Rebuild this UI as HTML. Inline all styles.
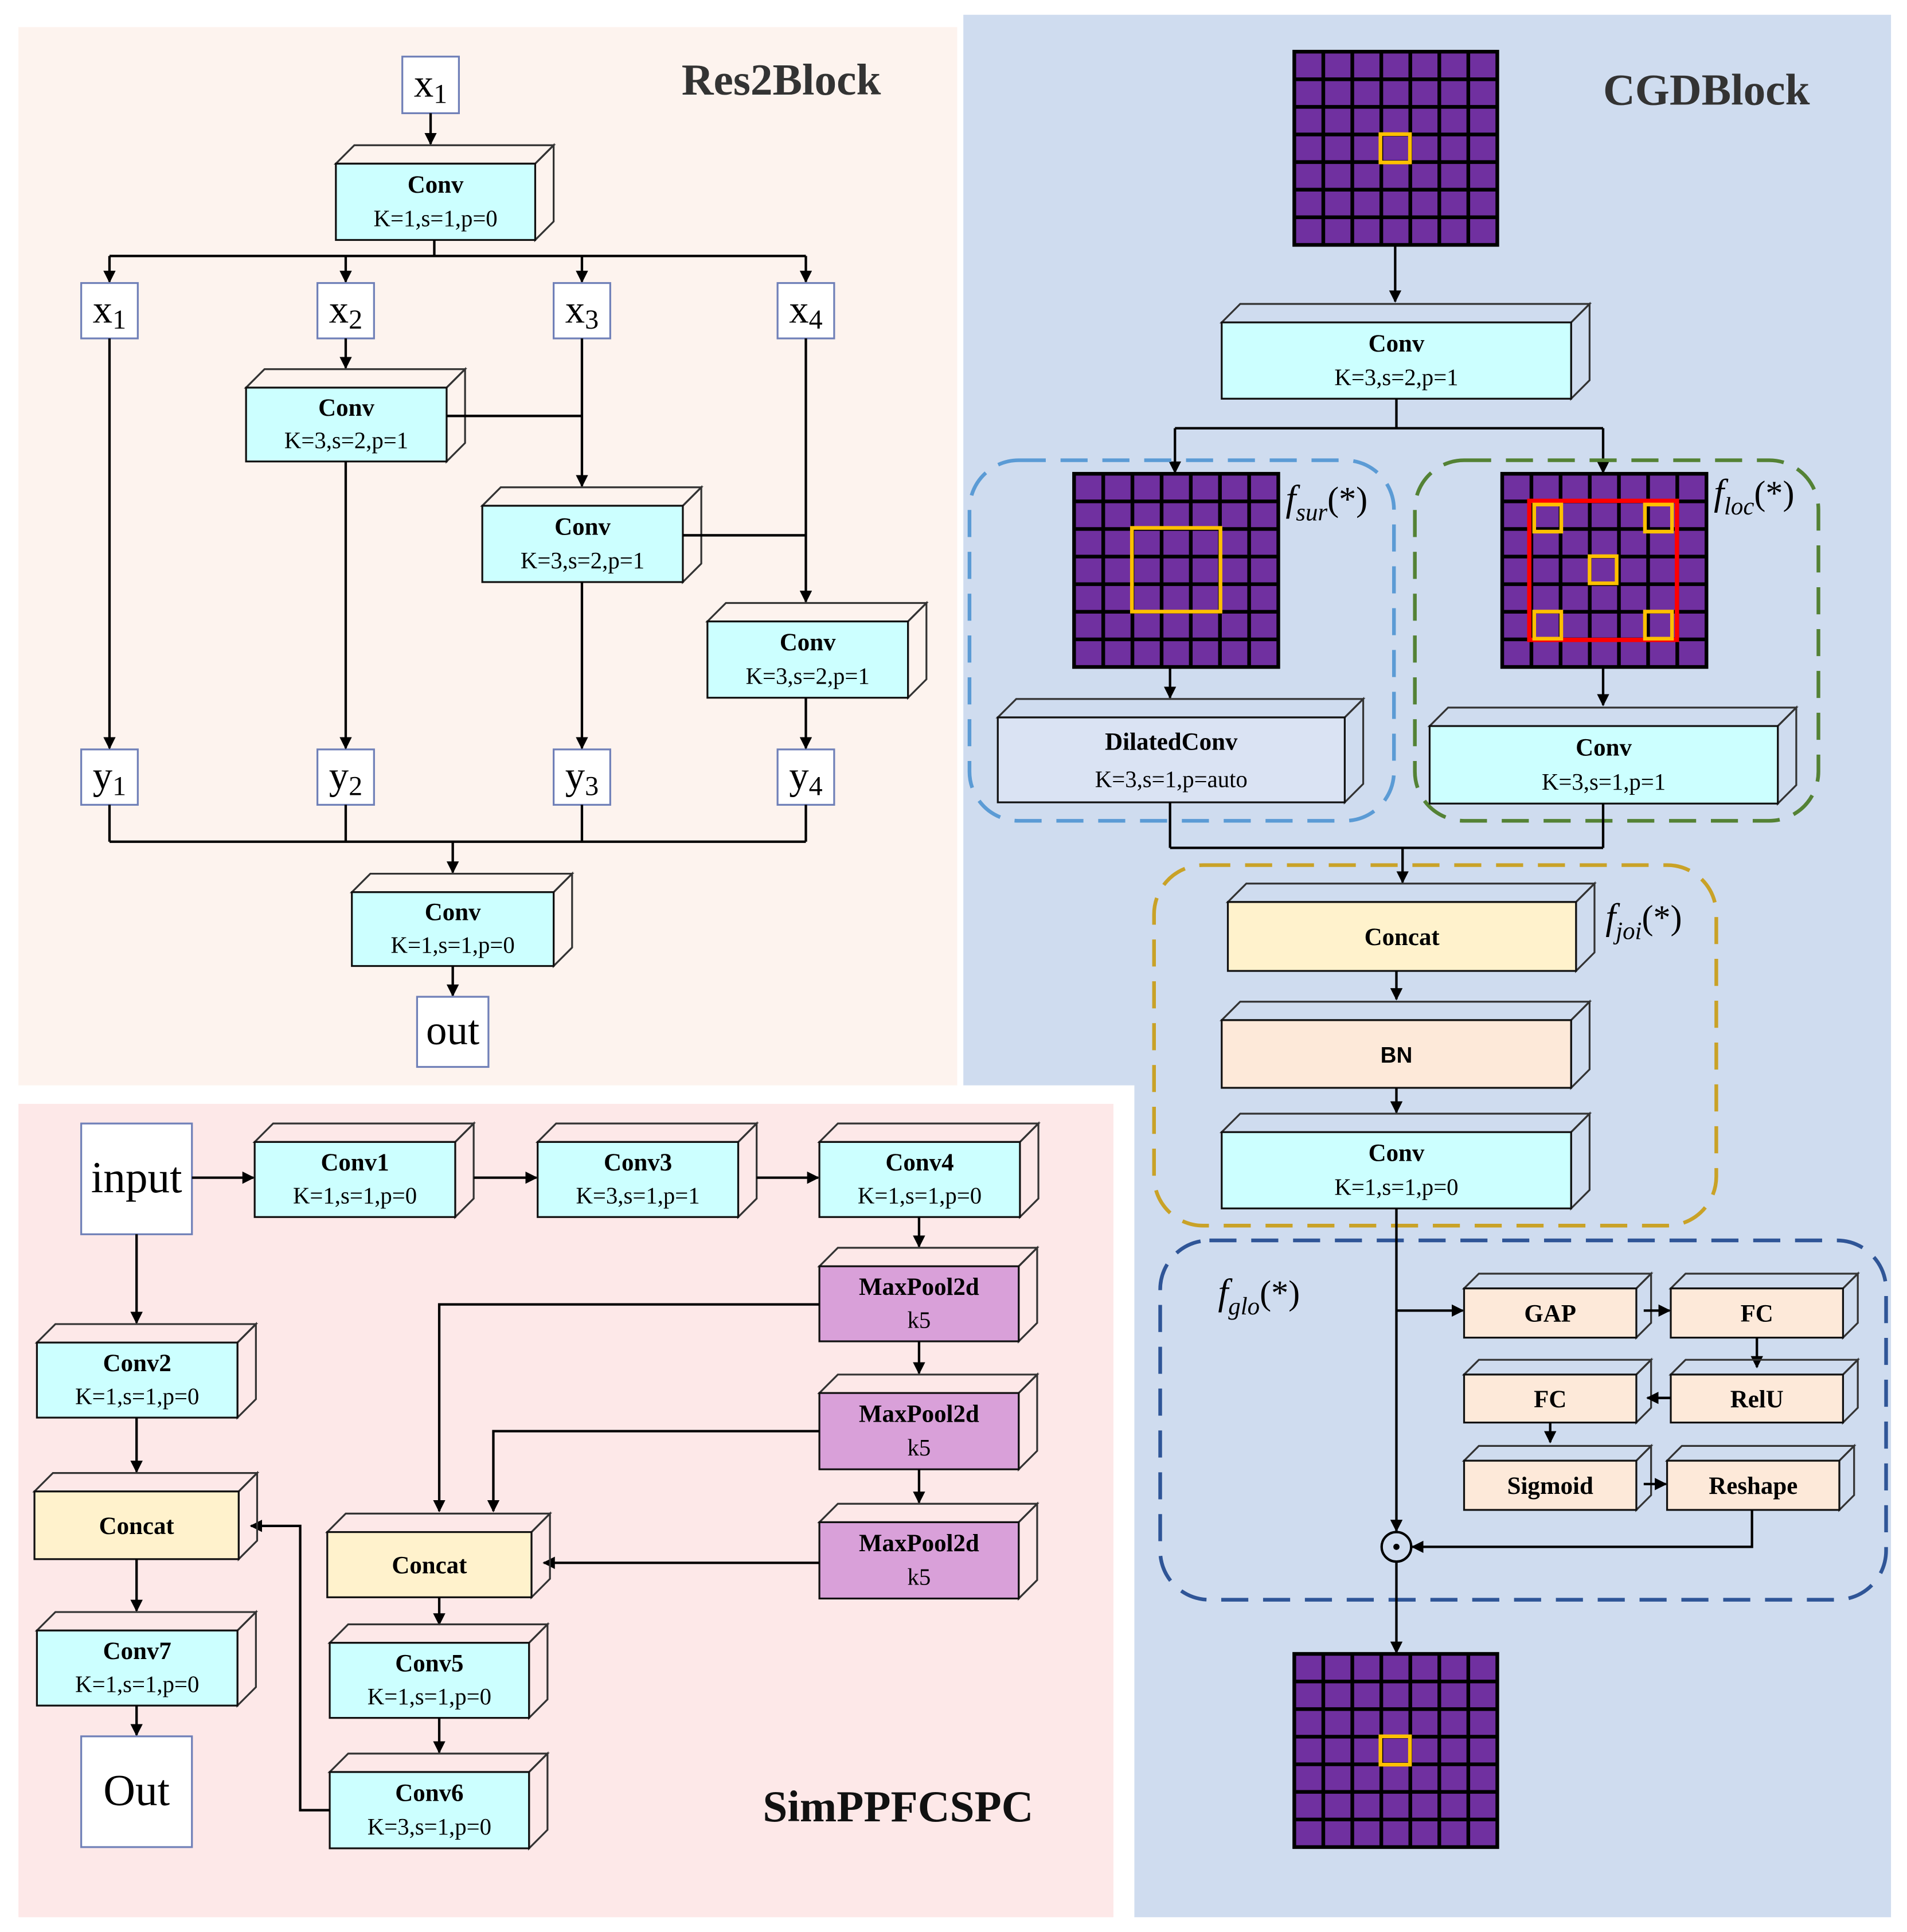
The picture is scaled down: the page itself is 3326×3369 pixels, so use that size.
<!DOCTYPE html>
<html><head><meta charset="utf-8"><style>html,body{margin:0;padding:0;background:#fff}svg{display:block}</style></head>
<body>
<svg id="s" xmlns="http://www.w3.org/2000/svg" width="3326" height="3369" viewBox="0 0 1550 1570" preserveAspectRatio="none" font-family="Liberation Serif, serif">
<defs><marker id="a" markerWidth="10" markerHeight="10" refX="9" refY="5" orient="auto" markerUnits="userSpaceOnUse"><path d="M0,0 L10,5 L0,10 z" fill="#000"/></marker></defs>
<rect x="15" y="22" width="763" height="860" fill="#fdf3ee"/>
<path d="M783,12 H1537 V1558 H922 V882 H783 Z" fill="#cfdcef"/>
<rect x="15" y="897" width="890" height="661" fill="#fde8e8"/>
<g id="g"></g>
</svg>
<script>
var g=document.getElementById('g'),h='';
function box(x,y,w,h2,fill,t1,t2,d,fs){d=d||15;fs=fs||20;
h+='<polygon points="'+x+','+y+' '+(x+d)+','+(y-d)+' '+(x+w+d)+','+(y-d)+' '+(x+w)+','+y+'" fill="none" stroke="#333" stroke-width="1.5"/>';
h+='<polygon points="'+(x+w)+','+y+' '+(x+w+d)+','+(y-d)+' '+(x+w+d)+','+(y+h2-d)+' '+(x+w)+','+(y+h2)+'" fill="none" stroke="#333" stroke-width="1.5"/>';
h+='<rect x="'+x+'" y="'+y+'" width="'+w+'" height="'+h2+'" fill="'+fill+'" stroke="#111" stroke-width="1.5"/>';
var cx=x+w/2;
if(t2!==undefined&&t2!==null){h+='<text x="'+cx+'" y="'+(y+h2*0.38)+'" font-size="'+fs+'" font-weight="bold" text-anchor="middle">'+t1+'</text>';
h+='<text x="'+cx+'" y="'+(y+h2*0.82)+'" font-size="'+(fs-1)+'" text-anchor="middle">'+t2+'</text>';}
else h+='<text x="'+cx+'" y="'+(y+h2/2+fs*0.35)+'" font-size="'+fs+'" font-weight="bold" text-anchor="middle">'+t1+'</text>';}
function ln(p,arrow){h+='<polyline points="'+p+'" fill="none" stroke="#000" stroke-width="2"'+(arrow?' marker-end="url(#a)"':'')+'/>';}
function lbl(x,y,w,hh,t,sub,fs){h+='<rect x="'+x+'" y="'+y+'" width="'+w+'" height="'+hh+'" fill="#fff" stroke="#7080b8" stroke-width="1.5"/>';
h+='<text x="'+(x+w/2)+'" y="'+(y+hh/2+fs*0.3)+'" font-size="'+fs+'" text-anchor="middle">'+t+(sub?'<tspan font-size="'+(fs*0.7)+'" dy="5">'+sub+'</tspan>':'')+'</text>';}
function grid(x,y,w,hh){var cw=w/7,ch=hh/7;h+='<rect x="'+x+'" y="'+y+'" width="'+w+'" height="'+hh+'" fill="#7030a0" stroke="#000" stroke-width="3"/>';
for(var i=1;i<7;i++){h+='<line x1="'+(x+i*cw)+'" y1="'+y+'" x2="'+(x+i*cw)+'" y2="'+(y+hh)+'" stroke="#000" stroke-width="3"/>';h+='<line x1="'+x+'" y1="'+(y+i*ch)+'" x2="'+(x+w)+'" y2="'+(y+i*ch)+'" stroke="#000" stroke-width="3"/>';}
return [cw,ch];}
function ys(x,y,w,hh,c,sw){h+='<rect x="'+x+'" y="'+y+'" width="'+w+'" height="'+hh+'" fill="none" stroke="'+c+'" stroke-width="'+(sw||3)+'"/>';}
function dash(x,y,w,hh,c){h+='<rect x="'+x+'" y="'+y+'" width="'+w+'" height="'+hh+'" rx="40" fill="none" stroke="'+c+'" stroke-width="3" stroke-dasharray="22,12"/>';}
function fl(x,y,sub){h+='<text x="'+x+'" y="'+y+'" font-size="30" font-style="italic">f<tspan font-size="20" dy="8">'+sub+'</tspan><tspan dy="-8" font-style="normal" font-size="28">(*)</tspan></text>';}
var C='#ccffff',P='#fde9d9',Y='#fff2cc',L='#dae3f3',M='#d9a0d9';
// Res2Block
h+='<text x="635" y="77" font-size="36" font-weight="bold" fill="#333" text-anchor="middle">Res2Block</text>';
lbl(327,46,46,46,'x','1',32);
ln('350,92 350,117',1);
box(273,133,162,62,C,'Conv','K=1,s=1,p=0');
ln('353,195 353,208');ln('89,208 655,208');
[89,281,473,655].forEach(function(x){ln(x+',208 '+x+',229',1);});
[[66,'1'],[258,'2'],[450,'3'],[632,'4']].forEach(function(a){lbl(a[0],230,46,45,'x',a[1],32);lbl(a[0],609,46,45,'y',a[1],32);});
ln('89,275 89,608',1);
ln('281,275 281,299',1);
box(200,315,163,60,C,'Conv','K=3,s=2,p=1');
ln('281,375 281,608',1);
ln('363,338 473,338');ln('473,275 473,395',1);
box(392,411,163,62,C,'Conv','K=3,s=2,p=1');
ln('473,473 473,608',1);
ln('555,435 655,435');ln('655,275 655,489',1);
box(575,505,163,62,C,'Conv','K=3,s=2,p=1');
ln('655,567 655,608',1);
[89,281,473,655].forEach(function(x){ln(x+',654 '+x+',684');});
ln('89,684 655,684');ln('368,684 368,709',1);
box(286,725,164,60,C,'Conv','K=1,s=1,p=0');
ln('368,785 368,809',1);
lbl(339,810,58,57,'out','',34);
// CGDBlock
h+='<text x="1387" y="85" font-size="36" font-weight="bold" fill="#333" text-anchor="middle">CGDBlock</text>';
grid(1052,42,165,157);ys(1122,109,24,23,'#ffc000');
ln('1134,199 1134,245',1);
box(993,262,284,62,C,'Conv','K=3,s=2,p=1');
ln('1135,324 1135,348');ln('955,348 1303,348');ln('955,348 955,384',1);ln('1303,348 1303,384',1);
dash(788,374,345,293,'#5b9bd5');dash(1150,374,328,293,'#548235');
grid(873,385,166,157);ys(920,429,72,68,'#ffc000');
fl(1045,415,'sur');
ln('951,542 951,567',1);
box(811,583,282,69,L,'DilatedConv','K=3,s=1,p=auto');
grid(1221,385,166,157);ys(1243,407,120,113,'#ff0000',3.5);
[[1247,410],[1337,410],[1292,452],[1247,497],[1337,497]].forEach(function(p){ys(p[0],p[1],22,22,'#ffc000');});
fl(1393,410,'loc');
ln('1303,542 1303,573',1);
box(1162,590,283,63,C,'Conv','K=3,s=1,p=1');
ln('951,652 951,689');ln('1303,653 1303,689');ln('951,689 1303,689');ln('1140,689 1140,717',1);
dash(938,703,457,293,'#c9a227');
box(998,733,283,56,Y,'Concat');
fl(1305,755,'joi');
ln('1135,789 1135,812',1);
h+='';box(993,829,284,55,P,'<tspan font-family="Liberation Sans, sans-serif" font-size="18">BN</tspan>');
ln('1135,884 1135,904',1);
box(993,920,284,62,C,'Conv','K=1,s=1,p=0');
dash(943,1008,590,292,'#2f5597');
fl(990,1060,'glo');
ln('1135,982 1135,1244',1);
ln('1135,1065 1189,1065',1);
box(1190,1047,140,40,P,'GAP',null,12);box(1358,1047,140,40,P,'FC',null,12);
ln('1336,1065 1357,1065',1);
ln('1428,1087 1428,1111',1);
box(1358,1117,140,39,P,'RelU',null,12);box(1190,1117,140,39,P,'FC',null,12);
ln('1358,1136 1339,1136',1);
ln('1260,1156 1260,1172',1);
box(1190,1187,140,40,P,'Sigmoid',null,12);box(1355,1187,140,40,P,'Reshape',null,12);
ln('1336,1206 1354,1206',1);
ln('1424,1227 1424,1257 1148,1257',1);
h+='<circle cx="1135" cy="1257" r="12" fill="none" stroke="#000" stroke-width="2"/><circle cx="1135" cy="1257" r="2.5" fill="#000"/>';
ln('1135,1269 1135,1343',1);
grid(1052,1344,165,157);ys(1122,1411,24,23,'#ffc000');
// SimPPFCSPC
h+='<text x="730" y="1480" font-size="36" font-weight="bold" fill="#111" text-anchor="middle">SimPPFCSPC</text>';
lbl(66,913,90,90,'input','',36);
ln('156,957 206,957',1);
box(207,928,163,61,C,'Conv1','K=1,s=1,p=0');
ln('385,957 436,957',1);
box(437,928,163,61,C,'Conv3','K=3,s=1,p=1');
ln('615,957 665,957',1);
box(666,928,163,61,C,'Conv4','K=1,s=1,p=0');
ln('747,989 747,1013',1);
box(666,1029,162,61,M,'MaxPool2d','k5');
ln('747,1090 747,1116',1);
box(666,1132,162,62,M,'MaxPool2d','k5');
ln('747,1194 747,1221',1);
box(666,1237,162,62,M,'MaxPool2d','k5');
ln('666,1060 357,1060 357,1228',1);
ln('666,1163 401,1163 401,1228',1);
ln('666,1270 442,1270',1);
box(266,1245,166,53,Y,'Concat');
ln('357,1298 357,1320',1);
box(268,1335,162,61,C,'Conv5','K=1,s=1,p=0');
ln('357,1396 357,1424',1);
box(268,1440,162,62,C,'Conv6','K=3,s=1,p=0');
ln('268,1471 244,1471 244,1240 204,1240',1);
ln('111,1003 111,1075',1);
box(30,1091,163,61,C,'Conv2','K=1,s=1,p=0');
ln('111,1152 111,1196',1);
box(28,1212,166,55,Y,'Concat');
ln('111,1267 111,1309',1);
box(30,1325,163,61,C,'Conv7','K=1,s=1,p=0');
ln('111,1386 111,1410',1);
lbl(66,1411,90,90,'Out','',36);
g.innerHTML=h;
</script>
</body></html>
